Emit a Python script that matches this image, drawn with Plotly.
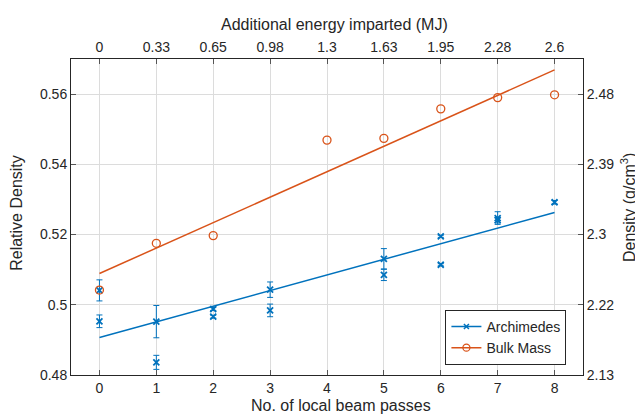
import plotly.graph_objects as go

# ---- data ----
passes = [0, 1, 2, 3, 4, 5, 6, 7, 8]
energy_labels = ["0", "0.33", "0.65", "0.98", "1.3", "1.63", "1.95", "2.28", "2.6"]

rel_ticks = [0.48, 0.50, 0.52, 0.54, 0.56]
rel_tick_labels = ["0.48", "0.5", "0.52", "0.54", "0.56"]
dens_tick_labels = ["2.13", "2.22", "2.3", "2.39", "2.48"]

arch_x = [0, 0, 1, 1, 2, 2, 3, 3, 5, 5, 6, 6, 7, 7, 8]
arch_y = [0.5041, 0.4953, 0.4952, 0.4836, 0.4988, 0.4966, 0.5043, 0.4984,
          0.5131, 0.5085, 0.5195, 0.5114, 0.5247, 0.5241, 0.5292]
arch_err = [0.0030, 0.0018, 0.0046, 0.0020, 0.0004, 0.0004, 0.0022, 0.0018,
            0.0029, 0.0016, 0.0003, 0.0003, 0.0018, 0.0008, 0.0005]

bulk_x = [0, 1, 2, 4, 5, 6, 7, 8]
bulk_y = [0.5042, 0.5175, 0.5197, 0.5469, 0.5474, 0.5558, 0.5590, 0.5598]

fit_x = [0, 8]
arch_fit = [0.4907, 0.5263]
bulk_fit = [0.5089, 0.5669]

BLUE = "#0072BD"
ORANGE = "#D95319"
DARK = "#262626"
GRID = "#dcdcdc"
FONT = "Liberation Sans, Arial, sans-serif"

fig = go.Figure()

fig.add_trace(go.Scatter(x=fit_x, y=bulk_fit, mode="lines",
                         line=dict(color=ORANGE, width=1.5), showlegend=False))
fig.add_trace(go.Scatter(x=fit_x, y=arch_fit, mode="lines",
                         line=dict(color=BLUE, width=1.5), showlegend=False))

fig.add_trace(go.Scatter(
    x=arch_x, y=arch_y, mode="markers", showlegend=False,
    marker=dict(symbol="x-thin", size=6, color=BLUE, line=dict(color=BLUE, width=1.8)),
    error_y=dict(type="data", array=arch_err, color=BLUE, thickness=1, width=3)))

fig.add_trace(go.Scatter(
    x=bulk_x, y=bulk_y, mode="markers", showlegend=False,
    marker=dict(symbol="circle-open", size=8, color=ORANGE, line=dict(color=ORANGE, width=1.3))))

# legend entries
fig.add_trace(go.Scatter(x=[None], y=[None], mode="lines+markers", name="Archimedes",
                         line=dict(color=BLUE, width=1.5),
                         marker=dict(symbol="x-thin", size=5, color=BLUE, line=dict(color=BLUE, width=1.5))))
fig.add_trace(go.Scatter(x=[None], y=[None], mode="lines+markers", name="Bulk Mass",
                         line=dict(color=ORANGE, width=1.5),
                         marker=dict(symbol="circle-open", size=7, color=ORANGE, line=dict(color=ORANGE, width=1.3))))

# invisible trace to activate the secondary (top / right) axes
fig.add_trace(go.Scatter(x=passes, y=[None] * len(passes), xaxis="x2", yaxis="y2",
                         mode="markers", showlegend=False, hoverinfo="skip"))

tickfont = dict(family=FONT, size=14, color=DARK)
titlefont = dict(family=FONT, size=16, color=DARK)
TICKC = "#555555"

common = dict(showline=True, linecolor=DARK, linewidth=1, zeroline=False,
              ticks="inside", ticklen=5, tickcolor=TICKC,
              tickfont=tickfont, automargin=False)

fig.update_layout(
    width=635, height=409,
    margin=dict(l=63, r=60, t=51, b=42),
    paper_bgcolor="white", plot_bgcolor="white",
    font=dict(family=FONT, size=14, color=DARK),
    xaxis=dict(range=[-0.5, 8.5], tickvals=passes, ticktext=[str(p) for p in passes],
               showgrid=True, gridcolor=GRID, gridwidth=1, **common),
    xaxis2=dict(range=[-0.5, 8.5], tickvals=passes, ticktext=energy_labels,
                overlaying="x", side="top", anchor="y", showgrid=False, **common),
    yaxis=dict(range=[0.48, 0.57], tickvals=rel_ticks, ticktext=rel_tick_labels,
               showgrid=True, gridcolor=GRID, gridwidth=1, **common),
    yaxis2=dict(range=[0.48, 0.57], tickvals=rel_ticks, ticktext=dens_tick_labels,
                overlaying="y", side="right", anchor="x", showgrid=False, **common),
    legend=dict(x=0.9676, y=0.032, xanchor="right", yanchor="bottom",
                bgcolor="white", bordercolor=DARK, borderwidth=1,
                font=dict(family=FONT, size=14, color=DARK),
                tracegroupgap=0, itemwidth=30),
)

ann = dict(xref="paper", yref="paper", showarrow=False, font=titlefont,
           xanchor="center", yanchor="middle")
fig.add_annotation(text="Additional energy imparted (MJ)", x=0.5137, y=1.108, **ann)
fig.add_annotation(text="No. of local beam passes", x=0.528, y=-0.097, **ann)
fig.add_annotation(text="Relative Density", x=-0.107, y=0.514, textangle=-90, **ann)
fig.add_annotation(text="Density (g/cm<sup>3</sup>)", x=1.087, y=0.53, textangle=-90, **ann)

fig.write_html("out.html")
